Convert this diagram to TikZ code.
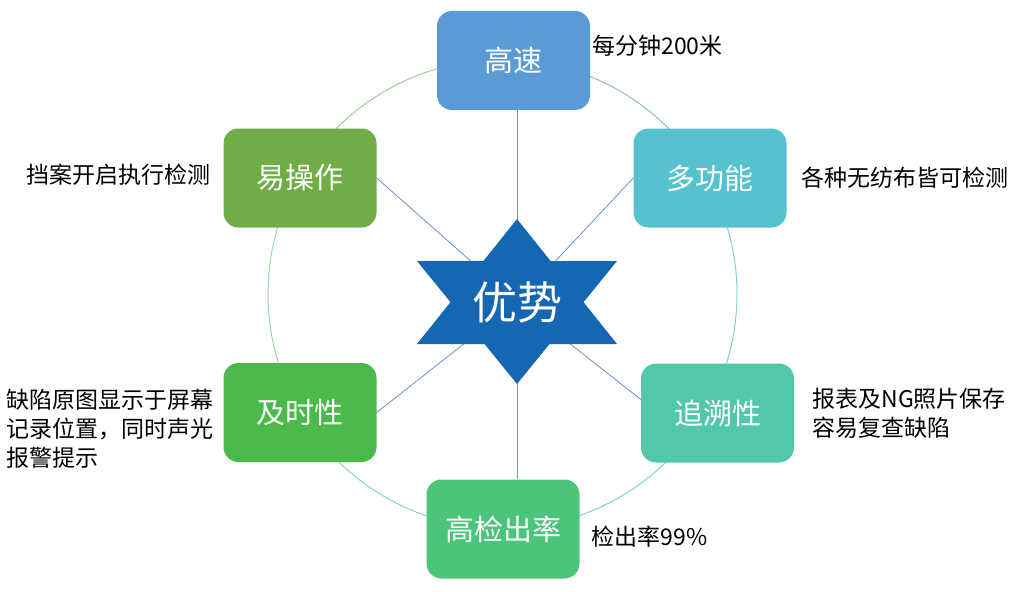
\documentclass[tikz,border=0pt]{standalone}
\usepackage{fontspec}
\setmainfont{Noto Sans CJK SC}
\usepackage{tikz}
\usetikzlibrary{positioning,backgrounds}

\definecolor{gaoblue}{HTML}{5B9BD5}
\definecolor{duocyan}{HTML}{57C2CF}
\definecolor{zhuiteal}{HTML}{51C8A9}
\definecolor{jiancgreen}{HTML}{4CC47A}
\definecolor{jigreen}{HTML}{4BBA4B}
\definecolor{yigreen}{HTML}{70AD47}
\definecolor{starblue}{HTML}{1667B1}
\definecolor{linkblue}{HTML}{6C8DD5}

\begin{document}
\begin{tikzpicture}[
        x=1pt, y=-1pt,
    % advantage boxes: rounded, filled, white label
        adv/.style={rectangle, rounded corners=15pt, minimum width=153pt,
        minimum height=99pt, inner sep=0pt, text=white,
        font=\fontsize{29}{34}\selectfont},
    % side notes next to each box
        desc/.style={inner sep=0pt, align=left, text=black,
        font=\fontsize{23}{29}\selectfont},
        link/.style={draw=linkblue, line width=0.8pt},
        ring/.style={line width=1pt}
    ]
\useasboundingbox (0,0) rectangle (1016,591);

% --- six-pointed star in the middle ---
\fill[starblue] (517,219) -- (617,344) -- (417,344) -- cycle;
\fill[starblue] (517,384) -- (417,261) -- (617,261) -- cycle;
\node[text=white, font=\fontsize{45}{50}\selectfont] (star) at (517,302) {优势};

% --- advantage boxes round the star ---
\node[adv, fill=gaoblue]    (gaosu)  at (513.5,60.5) {高速};
\node[adv, fill=duocyan]    (duo)    at (710,178)    {多功能};
\node[adv, fill=zhuiteal]   (zhui)   at (717.5,413)  {追溯性};
\node[adv, fill=jiancgreen] (jianc)  at (503,529)    {高检出率};
\node[adv, fill=jigreen]    (jishi)  at (300,412.5)  {及时性};
\node[adv, fill=yigreen]    (yi)     at (300,178)    {易操作};

% --- side notes ---
\node[desc, right=2pt of gaosu.east, anchor=west, yshift=15pt] (gaosutxt) {每分钟200米};
\node[desc, right=15pt of duo] (duotxt) {各种无纺布皆可检测};
\node[desc, right=18pt of zhui] (zhuitxt) {报表及NG照片保存\\容易复查缺陷};
\node[desc, right=12pt of jianc, yshift=-8pt] (jianctxt) {检出率99\%};
\node[desc, left=10pt of jishi, yshift=-16pt] (jishitxt) {缺陷原图显示于屏幕\\记录位置，同时声光\\报警提示};
\node[desc, left=13pt of yi, yshift=3pt] (yitxt) {挡案开启执行检测};

% --- ring and spokes, kept behind the boxes ---
\begin{pgfonlayer}{background}
\coordinate (ctr) at (502.5,294);
\draw[ring, draw=green!45!gray!60!yigreen!60] (ctr) ++(-150:234.5) arc[start angle=-150, end angle=-87, radius=234.5];
\draw[ring, draw=gaoblue!70] (ctr) ++(-87:234.5) arc[start angle=-87, end angle=-29, radius=234.5];
\draw[ring, draw=duocyan!75] (ctr) ++(-29:234.5) arc[start angle=-29, end angle=29, radius=234.5];
\draw[ring, draw=zhuiteal!75] (ctr) ++(29:234.5) arc[start angle=29, end angle=90, radius=234.5];
\draw[ring, draw=jiancgreen!65] (ctr) ++(90:234.5) arc[start angle=90, end angle=150, radius=234.5];
\draw[ring, draw=jigreen!55] (ctr) ++(150:234.5) arc[start angle=150, end angle=210, radius=234.5];

\draw[link] (star.center) -- (star.center |- gaosu.south);
\draw[link] (star.center) -- (duo.west);
\draw[link] (star.center) -- (zhui.170);
\draw[link] (star.center) -- (star.center |- jianc.north);
\draw[link] (star.center) -- (jishi.east);
\draw[link] (star.center) -- (yi.east);
\end{pgfonlayer}
\end{tikzpicture}
\end{document}
